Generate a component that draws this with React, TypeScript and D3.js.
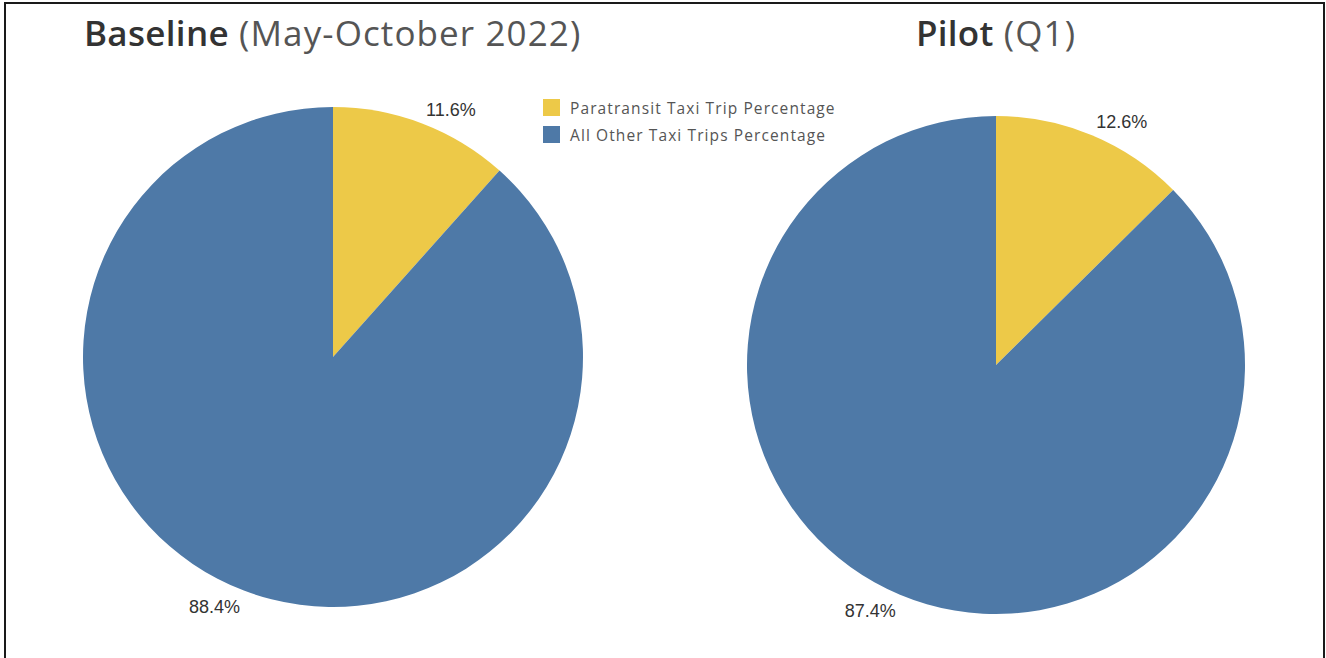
import React, { useEffect, useRef } from 'react';
import * as d3 from 'd3';

const categories = ['Paratransit Taxi Trip Percentage', 'All Other Taxi Trips Percentage'];
const colors = ['#EDC948', '#4E79A7'];
const baselineValues = [11.6, 88.4];
const pilotValues = [12.6, 87.4];
const titles = [
    { bold: 'Baseline', rest: ' (May-October 2022)' },
    { bold: 'Pilot', rest: ' (Q1)' },
];

const App = () => {
    const chartRef = useRef<SVGSVGElement>(null);

    useEffect(() => {
        drawChart();
    }, []);

    const drawChart = () => {
        const svg = d3.select(chartRef.current);
        svg.selectAll('*').remove();

        const width = 1326;
        const height = 658;

        // frame, bottom edge runs off the picture
        svg.append('rect')
            .attr('x', 5)
            .attr('y', 3)
            .attr('width', 1319)
            .attr('height', height + 20)
            .attr('fill', 'white')
            .attr('stroke', '#1a1a1a')
            .attr('stroke-width', 2);

        const color = d3.scaleOrdinal<string, string>().domain(categories).range(colors);

        const pie = d3.pie<number>()
            .sort(null)
            .value(d => d);

        const pies = [
            { values: baselineValues, cx: 333, cy: 357, r: 250, titleX: 84, titleAnchor: 'start' },
            { values: pilotValues, cx: 996, cy: 365, r: 249, titleX: 996, titleAnchor: 'middle' },
        ];

        pies.forEach((p, i) => {
            const g = svg.append('g').attr('transform', `translate(${p.cx},${p.cy})`);
            const arc = d3.arc<d3.PieArcDatum<number>>().innerRadius(0).outerRadius(p.r);
            const arcs = pie(p.values);

            g.selectAll('path')
                .data(arcs)
                .enter().append('path')
                .attr('d', arc)
                .attr('fill', (d, j) => color(categories[j]));

            const mid = (d: d3.PieArcDatum<number>) => (d.startAngle + d.endAngle) / 2;
            const labelR = p.r + 11;
            g.selectAll('text.lbl')
                .data(arcs)
                .enter().append('text')
                .attr('class', 'lbl')
                .attr('x', d => Math.sin(mid(d)) * labelR)
                .attr('y', d => -Math.cos(mid(d)) * labelR)
                .attr('dy', d => (Math.cos(mid(d)) > 0 ? '0.15em' : '0.7em'))
                .attr('text-anchor', d => (mid(d) < Math.PI ? 'start' : 'end'))
                .style('font-family', '"Liberation Sans", Arial, sans-serif')
                .style('font-size', '18px')
                .style('fill', '#333')
                .text(d => `${d.data.toFixed(1)}%`);

            const t = svg.append('text')
                .attr('x', p.titleX)
                .attr('y', 46)
                .attr('text-anchor', p.titleAnchor)
                .style('font-family', '"Open Sans", sans-serif')
                .style('font-size', '35px')
                .style('fill', '#333');
            t.append('tspan').style('font-weight', 600).style('letter-spacing', '0.3px').text(titles[i].bold);
            t.append('tspan').style('fill', '#555').style('font-weight', 400).style('letter-spacing', '1.1px').text(titles[i].rest);
        });

        const legend = svg.append('g').attr('transform', 'translate(543,99)');
        const items = legend.selectAll('g')
            .data(categories)
            .enter().append('g')
            .attr('transform', (d, i) => `translate(0,${i * 27})`);
        items.append('rect')
            .attr('width', 17)
            .attr('height', 17)
            .attr('fill', d => color(d));
        items.append('text')
            .attr('x', 27)
            .attr('y', 9.5)
            .attr('dy', '0.35em')
            .style('font-family', '"Open Sans", sans-serif')
            .style('font-size', '15.5px')
            .style('letter-spacing', '1.1px')
            .style('fill', '#555')
            .text(d => d);

        svg.attr('viewBox', `0 0 ${width} ${height}`);
    };

    return (
        <svg
            ref={chartRef}
            width={1326}
            height={658}
            style={{ position: 'absolute', left: 0, top: 0, background: 'white' }}
        />
    );
};

export default App;
